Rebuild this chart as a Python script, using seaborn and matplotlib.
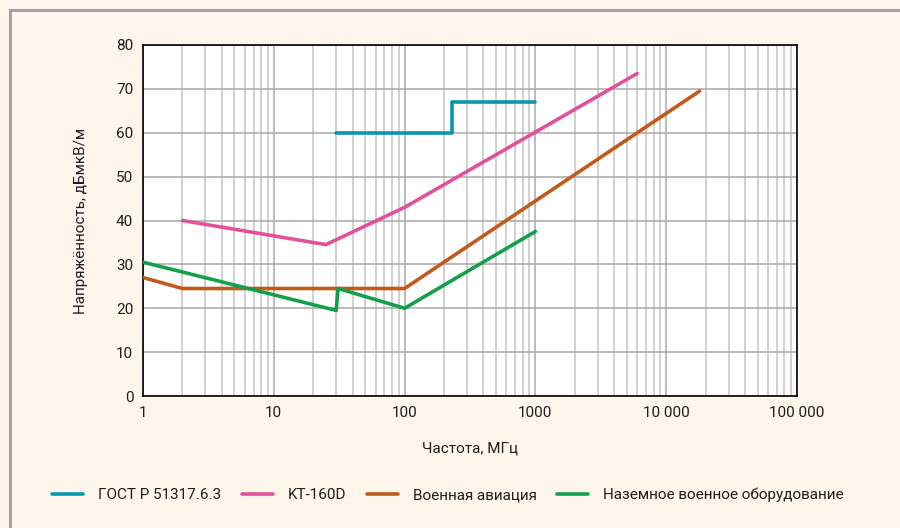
import matplotlib
matplotlib.use("Agg")
import matplotlib.pyplot as plt
import seaborn as sns
import pandas as pd
from matplotlib.patches import Rectangle
from matplotlib.ticker import FixedLocator, LogLocator, NullFormatter

# data
gost_f = [30, 230, 230, 1000]
gost_v = [60, 60, 67, 67]

kt_f = [2, 25, 100, 6000]
kt_v = [40, 34.5, 43, 73.5]

avia_f = [1, 2, 100, 18000]
avia_v = [27, 24.5, 24.5, 69.5]

ground_f = [1, 30, 31, 100, 1000]
ground_v = [30.5, 19.5, 24.5, 20, 37.5]

series_names = ["ГОСТ Р 51317.6.3", "KT-160D", "Военная авиация",
                "Наземное военное оборудование"]
series_colors = ["#0796ad", "#e0529b", "#c05a1f", "#14a04b"]

x_ticks = [1, 10, 100, 1000, 10000, 100000]
x_tick_labels = ["1", "10", "100", "1000", "10 000", "100 000"]
y_ticks = [0, 10, 20, 30, 40, 50, 60, 70, 80]

sns.set_style("white")
plt.rcParams["font.family"] = ["Roboto", "DejaVu Sans"]
plt.rcParams["text.color"] = "#1e1e1e"
plt.rcParams["xtick.color"] = "#1e1e1e"
plt.rcParams["ytick.color"] = "#1e1e1e"
plt.rcParams["axes.labelcolor"] = "#1e1e1e"

bg = "#fef6ea"
fig = plt.figure(figsize=(9, 5.28), dpi=100, facecolor=bg)
fig.patches.append(Rectangle((10 / 900, -0.2), 1.2, 1 - 10 / 528 + 0.2,
                             transform=fig.transFigure, fill=False,
                             edgecolor="#a3a3a3", linewidth=2.2, zorder=-1))
ax = fig.add_axes([143 / 900, 0.25, (797 - 143) / 900, (396 - 45) / 528])
ax.set_facecolor("white")

all_f = [gost_f, kt_f, avia_f, ground_f]
all_v = [gost_v, kt_v, avia_v, ground_v]
for f, v, name, col in zip(all_f, all_v, series_names, series_colors):
    df = pd.DataFrame({"f": f, "v": v})
    sns.lineplot(data=df, x="f", y="v", ax=ax, color=col, label=name,
                 sort=False, estimator=None, linewidth=2.6, zorder=3)

ax.set_xscale("log")
ax.set_xlim(1, 100000)
ax.set_ylim(0, 80)
ax.xaxis.set_major_locator(FixedLocator(x_ticks))
ax.set_xticklabels(x_tick_labels)
ax.xaxis.set_minor_locator(LogLocator(base=10, subs=range(2, 10), numticks=20))
ax.xaxis.set_minor_formatter(NullFormatter())
ax.set_yticks(y_ticks)

ax.grid(True, which="major", axis="both", color="#a8a8a8", linewidth=1.1)
ax.grid(True, which="minor", axis="x", color="#c4c4c4", linewidth=1.1)
ax.tick_params(axis="both", which="both", length=0, labelsize=11, pad=7)
for s in ax.spines.values():
    s.set_color("black")
    s.set_linewidth(1.2)

ax.set_xlabel("Частота, МГц", fontsize=11, labelpad=16)
ax.set_ylabel("Напряжённость, дБмкВ/м", fontsize=11, labelpad=20)

ax.get_legend().remove()
handles, labels = ax.get_legend_handles_labels()
fig.legend(handles, labels, loc="center left", bbox_to_anchor=(0.043, 0.0625),
           bbox_transform=fig.transFigure, ncol=4, frameon=False,
           fontsize=11, handlelength=2.0, handletextpad=1.0,
           columnspacing=1.35)

fig.savefig("out.png", dpi=100, facecolor=bg)
plt.close(fig)
